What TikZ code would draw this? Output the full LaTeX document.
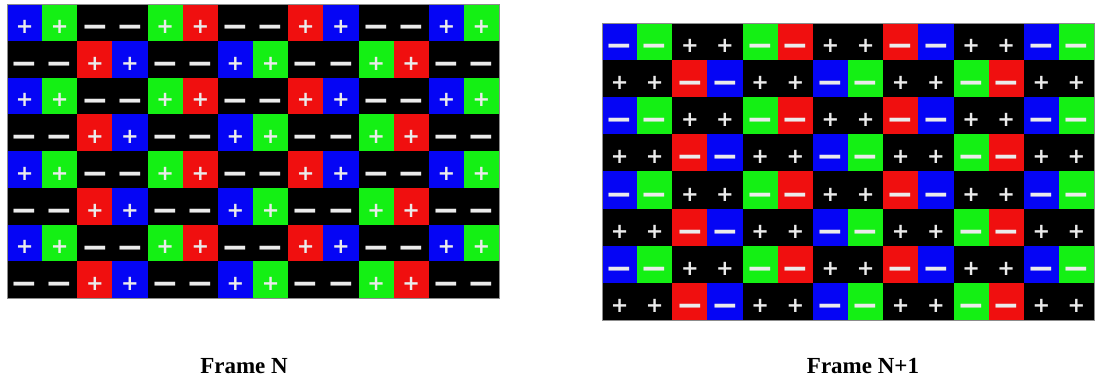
\documentclass[tikz,border=0pt]{standalone}
\usepackage{fontspec}
\setmainfont{Liberation Serif}
\newfontfamily\signfont{DejaVu Sans}
\usepackage{xcolor}

\definecolor{pixblue}{RGB}{5,5,245}
\definecolor{pixgreen}{RGB}{20,240,20}
\definecolor{pixred}{RGB}{240,15,15}

\newcommand{\plussign}{{\fontsize{21}{21}\selectfont +}}
\newcommand{\minussign}{{\fontsize{33}{33}\selectfont −}}

\begin{document}
\begin{tikzpicture}[x=1pt,y=-1pt,
	cell/.style={minimum width=35.15pt,inner sep=0pt,outer sep=0pt,draw=none},
	sign/.style={inner sep=0pt,text=white!92!black,font=\signfont\bfseries},
	gridedge/.style={draw=black!45,line width=0.6pt},
	framelabel/.style={font=\bfseries\fontsize{23}{27}\selectfont,inner sep=0pt}]
	
	\useasboundingbox[fill=white] (0,0) rectangle (1099,380);
	
	% Two frames: name / left / top / row height / inverted signs
	\foreach \f/\xo/\yo/\ch/\flip in {N/7/4/36.75/0,M/602/23/37.1/1}{
		\fill[black] (\xo,\yo) rectangle ++(14*35.15,8*\ch);
		\foreach \r in {0,...,7}{
			\foreach \c in {0,...,13}{
				\pgfmathtruncatemacro{\p}{int(\c/2)}
				\pgfmathtruncatemacro{\lit}{mod(\p,2)==mod(\r,2)}
				\pgfmathtruncatemacro{\k}{\lit*(mod(\p,3)*2+mod(\c,2)+1)}
				\pgfmathtruncatemacro{\isplus}{abs(\lit-\flip)}
				\pgfmathsetmacro{\dy}{\isplus==1 ? -4.5 : -9}
				\edef\cellcol{\ifcase\k black\or pixblue\or pixgreen\or pixred\or pixblue\or pixgreen\or pixred\fi}
				\node[cell,fill=\cellcol,minimum height=\ch pt] (\f-\r-\c) at ({\xo+(\c+0.5)*35.15},{\yo+(\r+0.5)*\ch}) {};
				\node[sign] (\f-\r-\c-s) at ([yshift=\dy pt]\f-\r-\c.center) {\ifnum\isplus=1 \plussign\else\minussign\fi};
			}
		}
		\draw[gridedge] (\xo,\yo) rectangle ++(14*35.15,8*\ch);
	}
	
	% Captions
	\node[framelabel,anchor=base] (labN) at (244,373) {Frame N};
	\node[framelabel,anchor=base] (labM) at (863,373) {Frame N+1};
	
\end{tikzpicture}
\end{document}
